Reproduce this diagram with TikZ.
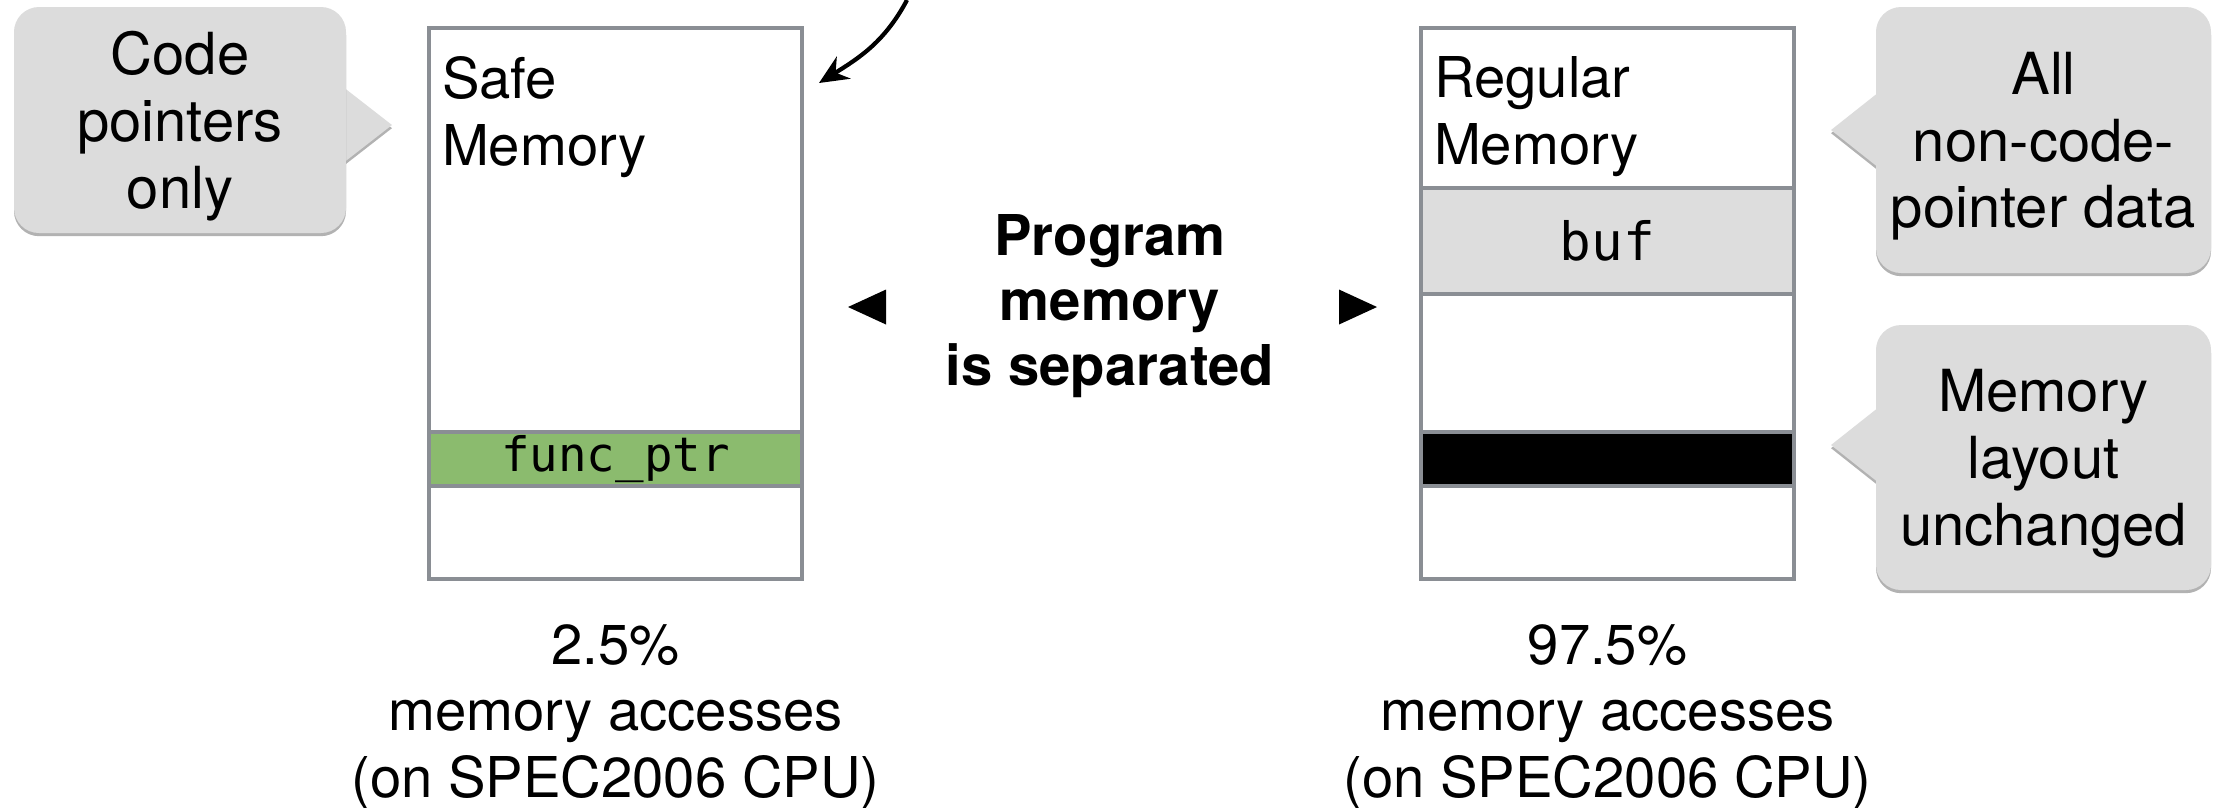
\documentclass[tikz,border=0pt]{standalone}
\usepackage{fontspec}
\setmainfont{TeX Gyre Heros}
\setmonofont{DejaVu Sans Mono}
\definecolor{boxgray}{RGB}{138,142,148}
\definecolor{bubblegray}{RGB}{220,220,220}
\definecolor{bufgray}{RGB}{221,221,221}
\definecolor{ptrgreen}{RGB}{139,187,110}
\usepackage{tikz}
\usetikzlibrary{positioning,calc,backgrounds,shadows}
\usetikzlibrary{arrows.meta}

\begin{document}
\begin{tikzpicture}[
            membox/.style={
                rectangle, draw=boxgray, line width=0.9pt, fill=white,
                minimum width=3.73cm, minimum height=5.51cm, inner sep=0pt
            },
            band/.style={
                rectangle, draw=boxgray, line width=0.9pt,
                minimum width=3.73cm, inner sep=0pt
            },
            boxtitle/.style={align=left, inner sep=0pt, font=\fontsize{16}{19.3}\selectfont},
            bubble/.style={
                rectangle, rounded corners=0.25cm, fill=bubblegray,
                align=center, inner sep=0pt, text depth=0pt,
                font=\fontsize{16.5}{19}\selectfont,
                drop shadow={shadow xshift=0pt, shadow yshift=-0.9pt, fill=black, opacity=0.3}
            },
            pointer/.style={fill=bubblegray, drop shadow={shadow xshift=0pt, shadow yshift=-0.9pt, fill=black, opacity=0.3}},
            share/.style={align=center, inner sep=0pt, font=\fontsize{16}{19}\selectfont},
        ]
            \useasboundingbox (0,0) rectangle (22.15,-8.07);

            % the two memories
            \node [membox] (safe)    at (6.155,-3.035)  {};
            \node [membox] (regular) at (16.075,-3.035) {};

            \node [boxtitle] (safetitle) [ below right= 0.29cm and 0.14cm of safe.north west ]    {Safe\\Memory};
            \node [boxtitle] (regtitle)  [ below right= 0.29cm and 0.14cm of regular.north west ] {Regular\\Memory};

            \node [band, fill=ptrgreen, minimum height=0.54cm] (fptr) [ above= 0.93cm of safe.south ]
                {\fontsize{13.5}{15}\selectfont\ttfamily func\_ptr};
            \node [band, fill=bufgray, minimum height=1.06cm] (buf) [ below= 1.6cm of regular.north ]
                {\fontsize{15}{17}\selectfont\ttfamily buf};
            \node [band, fill=black, minimum height=0.54cm] (hidden) [ above= 0.93cm of regular.south ] {};

            % middle
            \node [align=center, inner sep=0pt, font=\fontsize{16}{18.5}\selectfont\bfseries] (sep) at (11.10,-3.06)
                {Program\\memory\\is separated};
            \coordinate (lefttri)  at (8.67,-3.07);
            \coordinate (righttri) at (13.58,-3.07);
            \fill (lefttri)  ++(-0.19,0) -- ++(0.38,0.175) -- ++(0,-0.35) -- cycle;
            \fill (righttri) ++(0.19,0) -- ++(-0.38,0.175) -- ++(0,-0.35) -- cycle;

            % arrow coming from above
            \coordinate (arrowstart) at (9.07,0);
            \coordinate (safetip)    at (8.19,-0.83);
            \draw [-{Stealth[length=0.29cm,width=0.26cm]}, line width=1.2pt] (arrowstart) to [out=-118, in=32] (safetip);

            % speech bubbles
            \node [bubble, minimum width=3.32cm, minimum height=2.26cm] (code)    at (1.80,-1.20)    {Code\\pointers\\only};
            \node [bubble, minimum width=3.35cm, minimum height=2.66cm] (alldata) at (20.435,-1.40)  {All\\non-code-\\pointer data};
            \node [bubble, minimum width=3.35cm, minimum height=2.65cm] (layout)  at (20.435,-4.575) {Memory\\layout\\unchanged};

            \coordinate (codetip) at (3.92,-1.25);
            \coordinate (alltip)  at (18.31,-1.30);
            \coordinate (laytip)  at (18.31,-4.45);

            \begin{scope}[on background layer]
                \fill [pointer] ($(code.east |- codetip)+(-0.1,0.43)$) -- (codetip) -- ($(code.east |- codetip)+(-0.1,-0.43)$) -- cycle;
                \fill [pointer] ($(alldata.west |- alltip)+(0.1,0.43)$) -- (alltip) -- ($(alldata.west |- alltip)+(0.1,-0.43)$) -- cycle;
                \fill [pointer] ($(layout.west |- laytip)+(0.1,0.43)$) -- (laytip) -- ($(layout.west |- laytip)+(0.1,-0.43)$) -- cycle;
            \end{scope}

            % shares of accesses
            \node [share] (safeshare) [ below= 0.43cm of safe.south ]    {2.5\%\\memory accesses\\(on SPEC2006 CPU)};
            \node [share] (regshare)  [ below= 0.43cm of regular.south ] {97.5\%\\memory accesses\\(on SPEC2006 CPU)};

        \end{tikzpicture}
\end{document}
